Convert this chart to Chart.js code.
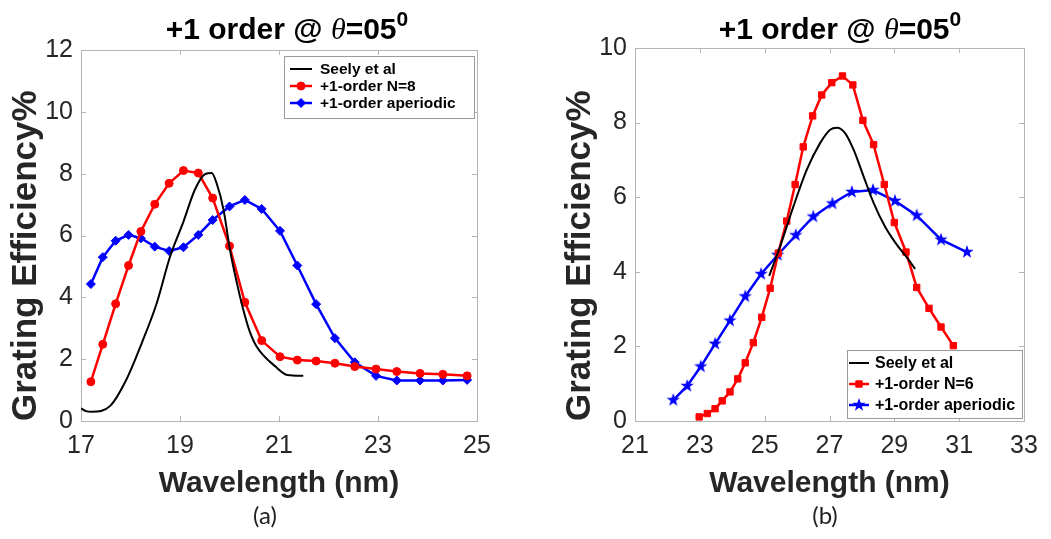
<!DOCTYPE html>
<html>
<head>
<meta charset="utf-8">
<script src="https://cdn.jsdelivr.net/npm/chart.js@4.4.1/dist/chart.umd.min.js"></script>
<style>
  body { margin: 0; width: 1051px; height: 539px; background: #fff; position: relative; overflow: hidden; }
  canvas { position: absolute; top: 0; }
  .ttl { position: absolute; top: 11px; width: 400px; text-align: center; font: bold 30px "Liberation Sans", Arial, sans-serif; color: #000; line-height: 36px; white-space: nowrap; }
  .ttl i { font-family: "Liberation Serif", "Times New Roman", serif; font-weight: normal; }
  .ttl sup { font-size: 21px; vertical-align: 0; position: relative; top: -13px; }
  .cap { position: absolute; top: 500px; width: 100px; text-align: center; font: 24px Lato, "Open Sans", sans-serif; color: #222; }
</style>
</head>
<body>
<canvas id="chartA" width="525" height="539" style="left:0"></canvas>
<canvas id="chartB" width="526" height="539" style="left:525px"></canvas>
<div class="ttl" style="left:87px">+1 order @ <i>θ</i>=05<sup>0</sup></div>
<div class="ttl" style="left:640px">+1 order @ <i>θ</i>=05<sup>0</sup></div>
<div class="cap" style="left:215px">(a)</div>
<div class="cap" style="left:775px">(b)</div>
<script>
// ---- panel (a) data ----
const seelyA_x = [17.0, 17.1, 17.22, 17.59, 17.92, 18.23, 18.53, 18.80, 19.07, 19.30, 19.51, 19.64, 19.74, 19.88, 20.01, 20.15, 20.28, 20.41, 20.55, 20.93, 21.17, 21.49];
const seelyA_y = [0.41, 0.32, 0.30, 0.49, 1.35, 2.53, 3.81, 5.32, 6.45, 7.48, 7.99, 8.02, 7.69, 6.83, 5.53, 4.46, 3.59, 2.89, 2.40, 1.76, 1.49, 1.46];
const lambdaA = [17.20, 17.44, 17.70, 17.96, 18.21, 18.49, 18.78, 19.07, 19.37, 19.66, 20.00, 20.31, 20.65, 21.02, 21.37, 21.75, 22.13, 22.53, 22.96, 23.38, 23.85, 24.31, 24.80];
const n8A = [1.27, 2.48, 3.79, 5.03, 6.13, 7.01, 7.69, 8.10, 8.02, 7.21, 5.66, 3.84, 2.60, 2.08, 1.97, 1.94, 1.87, 1.76, 1.68, 1.60, 1.54, 1.51, 1.46];
const aperA = [4.43, 5.30, 5.83, 6.02, 5.91, 5.64, 5.50, 5.62, 6.02, 6.50, 6.94, 7.15, 6.86, 6.15, 5.03, 3.78, 2.68, 1.90, 1.46, 1.31, 1.31, 1.31, 1.33];

// ---- panel (b) data ----
const seelyB_x = [25.14, 25.48, 25.89, 26.30, 26.71, 27.02, 27.23, 27.48, 27.74, 28.05, 28.36, 28.72, 29.08, 29.39, 29.64];
const seelyB_y = [3.89, 4.69, 5.76, 6.74, 7.45, 7.81, 7.86, 7.72, 7.28, 6.56, 5.85, 5.20, 4.72, 4.38, 4.08];
const n6B_x = [22.98, 23.23, 23.47, 23.69, 23.93, 24.17, 24.40, 24.65, 24.91, 25.17, 25.42, 25.68, 25.94, 26.19, 26.48, 26.76, 27.07, 27.40, 27.72, 28.03, 28.36, 28.69, 29.00, 29.36, 29.69, 30.07, 30.44, 30.82];
const n6B_y = [0.11, 0.20, 0.33, 0.54, 0.78, 1.13, 1.56, 2.10, 2.78, 3.56, 4.50, 5.36, 6.34, 7.35, 8.18, 8.74, 9.07, 9.25, 9.01, 8.06, 7.41, 6.34, 5.32, 4.53, 3.58, 3.02, 2.52, 2.02];
const aperB_x = [22.18, 22.61, 23.03, 23.47, 23.93, 24.40, 24.89, 25.40, 25.96, 26.50, 27.09, 27.69, 28.34, 29.02, 29.69, 30.44, 31.24];
const aperB_y = [0.56, 0.94, 1.46, 2.07, 2.69, 3.34, 3.94, 4.45, 4.98, 5.48, 5.83, 6.14, 6.19, 5.90, 5.51, 4.86, 4.53];

const seriesNames = ['Seely et al', '+1-order N=8', '+1-order N=6', '+1-order aperiodic'];

const zip = (xs, ys) => xs.map((x, i) => ({ x: x, y: ys[i] }));

Chart.defaults.font.family = '"Liberation Sans", Arial, sans-serif';
Chart.defaults.color = '#262626';

// filled pentagram marker like matlab 'p'
function starMarker(color, r) {
  const c = document.createElement('canvas');
  const s = Math.ceil(r * 2 + 2);
  c.width = s; c.height = s;
  const g = c.getContext('2d');
  g.fillStyle = color;
  g.beginPath();
  for (let i = 0; i < 10; i++) {
    const rr = i % 2 ? r * 0.4 : r;
    const a = -Math.PI / 2 + i * Math.PI / 5;
    const px = s / 2 + rr * Math.cos(a), py = s / 2 + rr * Math.sin(a);
    if (i) g.lineTo(px, py); else g.moveTo(px, py);
  }
  g.closePath();
  g.fill();
  return c;
}

// axes box with inward ticks on all sides
const boxTicks = {
  id: 'boxTicks',
  beforeDatasetsDraw(chart) {
    const { ctx, chartArea: a, scales } = chart;
    ctx.save();
    ctx.strokeStyle = '#b4b4b4';
    ctx.lineWidth = 1;
    ctx.strokeRect(a.left + 0.5, a.top + 0.5, a.right - a.left, a.bottom - a.top);
    ctx.beginPath();
    scales.x.ticks.forEach(t => {
      const px = Math.round(scales.x.getPixelForValue(t.value)) + 0.5;
      ctx.moveTo(px, a.bottom); ctx.lineTo(px, a.bottom - 5);
      ctx.moveTo(px, a.top); ctx.lineTo(px, a.top + 5);
    });
    scales.y.ticks.forEach(t => {
      const py = Math.round(scales.y.getPixelForValue(t.value)) + 0.5;
      ctx.moveTo(a.left, py); ctx.lineTo(a.left + 5, py);
      ctx.moveTo(a.right, py); ctx.lineTo(a.right - 5, py);
    });
    ctx.stroke();
    ctx.restore();
  }
};

// legend drawn inside the axes
const insideLegend = {
  id: 'insideLegend',
  afterDatasetsDraw(chart, args, o) {
    const ctx = chart.ctx;
    ctx.save();
    ctx.fillStyle = '#fff';
    ctx.fillRect(o.x, o.y, o.w, o.h);
    ctx.strokeStyle = '#9a9a9a';
    ctx.lineWidth = 1;
    ctx.strokeRect(o.x + 0.5, o.y + 0.5, o.w, o.h);
    chart.data.datasets.forEach((ds, i) => {
      const ry = o.rows[i];
      ctx.strokeStyle = ds.borderColor;
      ctx.lineWidth = ds.borderWidth;
      ctx.beginPath();
      ctx.moveTo(o.line[0], ry); ctx.lineTo(o.line[1], ry);
      ctx.stroke();
      if (ds.pointRadius > 0) {
        ctx.fillStyle = ds.backgroundColor;
        ctx.strokeStyle = ds.borderColor;
        ctx.lineWidth = 1;
        Chart.helpers.drawPoint(ctx, { pointStyle: ds.pointStyle, radius: ds.pointRadius, rotation: 0, borderWidth: 1 }, (o.line[0] + o.line[1]) / 2, ry);
      }
      ctx.fillStyle = '#000';
      ctx.font = 'bold ' + o.size + 'px "Liberation Sans", Arial, sans-serif';
      ctx.textBaseline = 'middle';
      ctx.fillText(ds.label, o.textX, ry + 1);
    });
    ctx.restore();
  }
};

function makeChart(id, datasets, xRange, yMax, g) {
  return new Chart(document.getElementById(id), {
    type: 'line',
    data: { datasets: datasets },
    plugins: [boxTicks, insideLegend],
    options: {
      responsive: false,
      animation: false,
      events: [],
      layout: { padding: { left: 0, right: g.padRight, top: g.padTop, bottom: 37 } },
      plugins: { legend: { display: false }, tooltip: { enabled: false }, insideLegend: g.legend },
      scales: {
        x: {
          type: 'linear', min: xRange[0], max: xRange[1],
          grid: { display: false, drawTicks: false },
          border: { display: false },
          ticks: { stepSize: 2, font: { size: 25 }, color: '#262626', padding: 10, maxRotation: 0, autoSkip: false },
          title: { display: true, text: 'Wavelength (nm)', font: { size: 30, weight: 'bold' }, color: '#262626', padding: { top: 0, bottom: 0 } },
          afterFit: s => { s.height = 81; }
        },
        y: {
          min: 0, max: yMax,
          grid: { display: false, drawTicks: false },
          border: { display: false },
          ticks: { stepSize: 2, font: { size: 25 }, color: '#262626', padding: 8 },
          title: { display: true, text: 'Grating Efficiency%', align: 'start', font: { size: 35, weight: 'bold' }, color: '#262626', padding: { top: g.yTitlePad, bottom: 0 } },
          afterFit: s => { s.width = g.yWidth; }
        }
      }
    }
  });
}

makeChart('chartA', [
  { label: seriesNames[0], data: zip(seelyA_x, seelyA_y), borderColor: '#000', backgroundColor: '#000', borderWidth: 2, pointRadius: 0, cubicInterpolationMode: 'monotone' },
  { label: seriesNames[1], data: zip(lambdaA, n8A), borderColor: '#ff0000', backgroundColor: '#ff0000', borderWidth: 2.5, pointStyle: 'circle', pointRadius: 4, pointBorderWidth: 1 },
  { label: seriesNames[3], data: zip(lambdaA, aperA), borderColor: '#0000ff', backgroundColor: '#0000ff', borderWidth: 2.5, pointStyle: 'rectRot', pointRadius: 4.5, pointBorderWidth: 1 }
], [17, 25], 12, {
  padRight: 48, padTop: 50, yWidth: 81, yTitlePad: 5,
  legend: { x: 284, y: 56, w: 190, h: 62, rows: [69, 86, 103], line: [290, 312], textX: 320, size: 15.5 }
});

makeChart('chartB', [
  { label: seriesNames[0], data: zip(seelyB_x, seelyB_y), borderColor: '#000', backgroundColor: '#000', borderWidth: 2, pointRadius: 0, cubicInterpolationMode: 'monotone' },
  { label: seriesNames[2], data: zip(n6B_x, n6B_y), borderColor: '#ff0000', backgroundColor: '#ff0000', borderWidth: 2.5, pointStyle: 'rect', pointRadius: 4.5, pointBorderWidth: 1 },
  { label: seriesNames[3], data: zip(aperB_x, aperB_y), borderColor: '#0000ff', backgroundColor: '#0000ff', borderWidth: 2.5, pointStyle: starMarker('#0000ff', 7), pointRadius: 7 }
], [21, 33], 10, {
  padRight: 27, padTop: 48, yWidth: 110, yTitlePad: 34,
  legend: { x: 322, y: 350, w: 175, h: 68, rows: [363, 384, 405], line: [324, 344], textX: 350, size: 16 }
});
</script>
</body>
</html>
